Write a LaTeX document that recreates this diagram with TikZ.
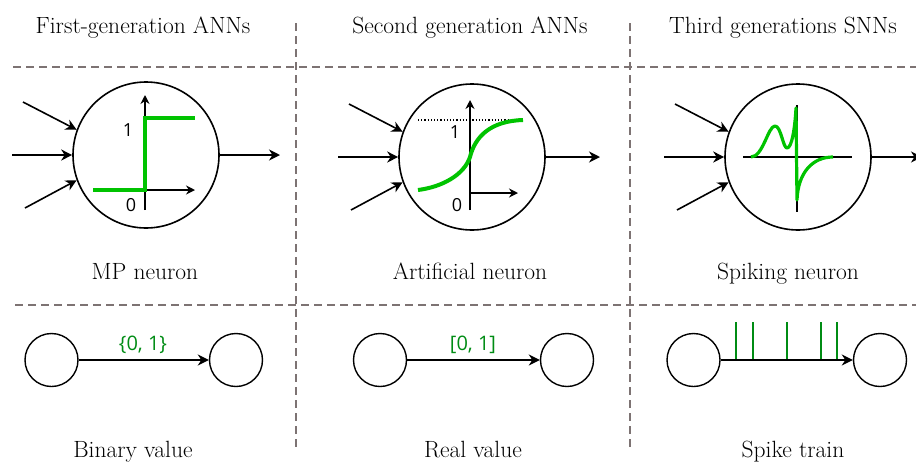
\documentclass[tikz,border=0pt]{standalone}
\usepackage{fontspec}
\newfontfamily\labelfont{Open Sans}
\usetikzlibrary{arrows.meta}

\definecolor{sepgray}{RGB}{125,115,115}
\definecolor{curvegreen}{RGB}{0,195,0}
\definecolor{labelgreen}{RGB}{0,140,20}

\tikzset{
  neuron/.style={circle, draw, line width=1.6pt, minimum size=146pt, inner sep=0pt},
  cell/.style={circle, draw, line width=1.4pt, minimum size=53pt, inner sep=0pt},
  divider/.style={sepgray, line width=1.8pt, dash pattern=on 8pt off 5pt},
  link/.style={line width=1.6pt, -{Stealth[length=11pt,width=11pt,inset=3.5pt]}},
  axis/.style={line width=1.4pt, -{Stealth[length=9pt,width=9pt,inset=3pt]}},
  curve/.style={curvegreen, line width=4pt},
  spike/.style={labelgreen, line width=1.8pt},
  heading/.style={font=\fontsize{23.5}{26}\selectfont, anchor=base},
  val/.style={font=\labelfont\fontsize{20}{22}\selectfont, text=labelgreen},
  axislabel/.style={font=\labelfont\fontsize{18}{20}\selectfont, inner sep=0pt},
}

\begin{document}
\begin{tikzpicture}[x=1pt, y=-1pt]
\useasboundingbox (0,0) rectangle (916,464);

% Dividers
\draw[divider] (13,67) -- (916,67);
\draw[divider] (15,305) -- (916,305);
\draw[divider] (296,23) -- (296,447);
\draw[divider] (630,23) -- (630,447);

% Headings
\node[heading] (h1) at (143,33) {First-generation ANNs};
\node[heading] (h2) at (470,33) {Second generation ANNs};
\node[heading] (h3) at (783,33) {Third generations SNNs};

% Neurons (manual placement)
\node[neuron] (mp)  at (146,155) {};
\node[neuron] (art) at (472,157) {};
\node[neuron] (spk) at (798,157) {};

\foreach \n/\o in {mp/134, art/128, spk/124} {
  \coordinate (\n-in1) at ([shift={(-123,-53)}]\n);
  \coordinate (\n-in2) at ([shift={(-134,0)}]\n);
  \coordinate (\n-in3) at ([shift={(-121,53)}]\n);
  \coordinate (\n-out) at ([shift={(\o,0)}]\n);
  \draw[link] (\n-in1) -- (\n.160);
  \draw[link] (\n-in2) -- (\n.west);
  \draw[link] (\n-in3) -- (\n.200);
  \draw[link] (\n.east) -- (\n-out);
}

% Step function
\begin{scope}[shift={(mp)}]
  \draw[axis] (-1,55) -- (-1,-60);
  \draw[axis] (-1,35) -- (49,35);
  \draw[curve] (-53,35) -- (-1,35) -- (-1,-37) -- (49,-37);
  \node[axislabel] (mp-one) at (-18,-25) {1};
  \node[axislabel] (mp-zero) at (-15,50) {0};
\end{scope}

% Sigmoid
\begin{scope}[shift={(art)}]
  \draw[axis] (-2,53) -- (-2,-57);
  \draw[axis] (-2,36) -- (46,36);
  \draw[line width=1.2pt, dotted] (-54,-37) -- (51,-37);
  \draw[curve] (-54,33) .. controls (-30,30) and (-8,18) .. (-2,0)
    .. controls (3,-20) and (18,-36) .. (51,-37);
  \node[axislabel] (art-one) at (-17,-25) {1};
  \node[axislabel] (art-zero) at (-15,48) {0};
\end{scope}

% Membrane potential
\begin{scope}[shift={(spk)}]
  \draw[line width=1.4pt] (-55,0) -- (54,0);
  \draw[line width=1.4pt] (-1,-52) -- (-1,55);
  \draw[curve, line width=3.2pt, line join=round] (-47,0) .. controls (-35,0) and (-30,-31) .. (-23,-31)
    .. controls (-17,-31) and (-15,-9) .. (-11,-9)
    .. controls (-6,-9) and (-3,-30) .. (-2,-49) -- (-1,43)
    .. controls (0,15) and (15,0) .. (35,0);
\end{scope}

% Neuron labels
\node[heading] (l1) at (145,279) {MP neuron};
\node[heading] (l2) at (470,279) {Artificial neuron};
\node[heading] (l3) at (788,279) {Spiking neuron};

% Signals between cells
\node[cell] (b1) at (51.5,360) {};
\node[cell] (b2) at (236,360) {};
\node[cell] (r1) at (380,360) {};
\node[cell] (r2) at (567,360) {};
\node[cell] (s1) at (693.5,360) {};
\node[cell] (s2) at (880,360) {};

\draw[link] (b1) -- (b2);
\draw[link] (r1) -- (r2);
\foreach \x in {736,753,787,821,837}
  \draw[spike] (\x,322) -- (\x,360);
\draw[link] (s1) -- (s2);

\node[val] (bin) at (143,345) {\{0, 1\}};
\node[val] (real) at (473,345) {[0, 1]};

\node[heading] (v1) at (133,457) {Binary value};
\node[heading] (v2) at (473,457) {Real value};
\node[heading] (v3) at (793,457) {Spike train};
\end{tikzpicture}
\end{document}
